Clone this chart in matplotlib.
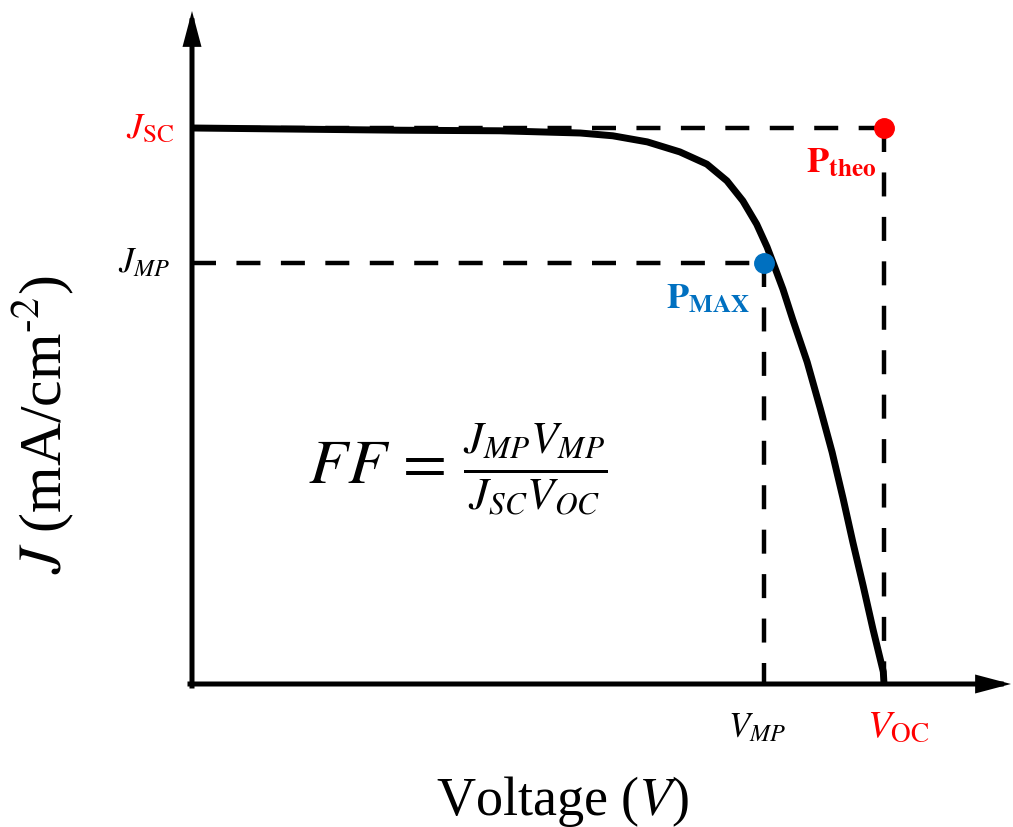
import matplotlib
matplotlib.use("Agg")
import matplotlib.pyplot as plt

plt.rcParams['font.family'] = ['Liberation Serif', 'DejaVu Serif']
plt.rcParams['mathtext.fontset'] = 'stix'

# ---- data (normalised units: V_OC = 1, J_SC = 1) ----
voltage = [0.000, 0.301, 0.445, 0.561, 0.608, 0.658, 0.705, 0.744, 0.773,
           0.796, 0.816, 0.831, 0.842, 0.854, 0.868, 0.889, 0.908, 0.925,
           0.941, 0.955, 0.970, 0.984, 0.999, 1.000]
current = [1.000, 0.996, 0.995, 0.991, 0.986, 0.975, 0.957, 0.935, 0.905,
           0.869, 0.827, 0.786, 0.750, 0.710, 0.656, 0.579, 0.495, 0.417,
           0.333, 0.255, 0.176, 0.099, 0.022, 0.000]
V_OC = 1.0
J_SC = 1.0
V_MP = 0.827
J_MP = 0.757

W, H = 1013, 828
X0, Y0, SX, SY = 192, 685, 692.0, 556.0


def px(x, y):
    """pixel position -> data position (layout helper)"""
    return (x - X0) / SX, (Y0 - y) / SY


fig = plt.figure(figsize=(W / 100, H / 100), dpi=100)
ax = fig.add_axes([0, 0, 1, 1])
ax.set_xlim((0 - X0) / SX, (W - X0) / SX)
ax.set_ylim((Y0 - H) / SY, (Y0 - 0) / SY)
ax.axis('off')

# axes with arrows
arrow_kw = dict(arrowstyle='-|>,head_length=1.7,head_width=0.45', lw=3.6,
                color='black', shrinkA=0, shrinkB=0, capstyle='projecting',
                joinstyle='miter')
ax.annotate('', xy=px(1011, Y0), xytext=px(X0 - 2, Y0), arrowprops=arrow_kw)
ax.annotate('', xy=px(X0, 12), xytext=px(X0, Y0 + 2), arrowprops=arrow_kw)

# dashed guides
dash_kw = dict(color='black', lw=3.2, dashes=(5.4, 4.6), solid_capstyle='butt',
               dash_capstyle='butt', zorder=2)
ax.plot([0, V_OC], [J_SC, J_SC], **dash_kw)
ax.plot([0, V_MP], [J_MP, J_MP], **dash_kw)
ax.plot([V_MP, V_MP], [J_MP, 0], **dash_kw)
ax.plot([V_OC, V_OC], [J_SC, 0], **dash_kw)

# J-V curve
ax.plot(voltage, current, color='black', lw=5.0, solid_joinstyle='round',
        solid_capstyle='butt', zorder=3)

# points
ax.plot([V_MP], [J_MP], 'o', color='#0070C0', ms=14, zorder=4)
ax.plot([V_OC], [J_SC], 'o', color='#FF0000', ms=14, zorder=4)

# labels
ax.text(*px(174, 138), r'$J_{\mathrm{SC}}$', color='#FF0000', fontsize=26,
        ha='right', va='baseline')
ax.text(*px(171, 272), r'$J_{MP}$', color='black', fontsize=25,
        ha='right', va='baseline')
ax.text(*px(757, 737), r'$V_{MP}$', color='black', fontsize=25,
        ha='center', va='baseline')
ax.text(*px(898, 737), r'$V_{\mathrm{OC}}$', color='#FF0000', fontsize=28,
        ha='center', va='baseline')
ax.text(*px(806, 172), r'$\mathbf{P}_{\mathbf{theo}}$', color='#FF0000',
        fontsize=26, ha='left', va='baseline')
ax.text(*px(666, 308), r'$\mathbf{P}_{\mathbf{MAX}}$', color='#0070C0',
        fontsize=26, ha='left', va='baseline')

# formula
ax.text(*px(458, 470), r'$FF\,=\,\frac{J_{MP}V_{MP}}{J_{SC}V_{OC}}$',
        color='black', fontsize=46, ha='center', va='center')

# axis titles
ax.text(*px(563, 815), r'Voltage ($V$)', fontsize=39, ha='center',
        va='baseline')
ax.text(*px(42, 425), r'$J$ (mA/cm$^{\text{-}2}$)', fontsize=43, ha='center',
        va='center', rotation=90)

fig.savefig('out.png', dpi=100, facecolor='white')
